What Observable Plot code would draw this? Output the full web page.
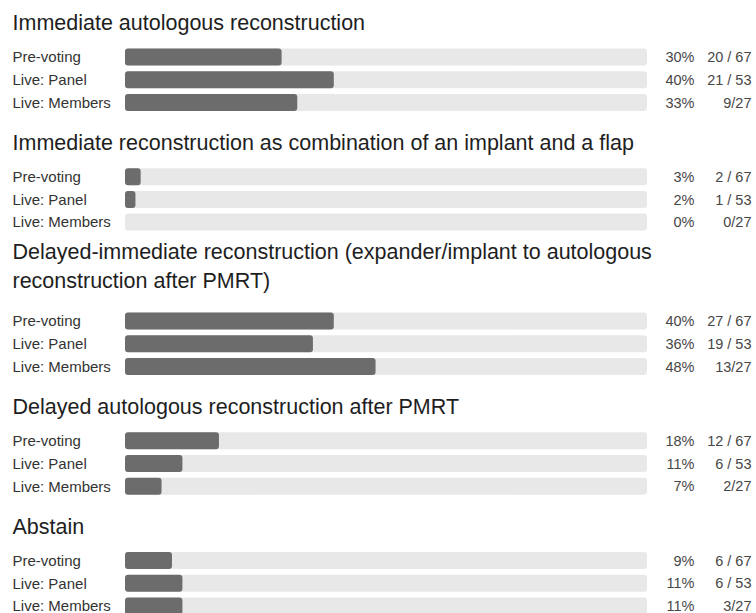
<!DOCTYPE html>
<html>
<head>
<meta charset="utf-8">
<script src="https://cdn.jsdelivr.net/npm/d3@7"></script>
<script src="https://cdn.jsdelivr.net/npm/@observablehq/plot@0.6"></script>
<style>
  html, body { margin: 0; padding: 0; background: #ffffff; }
  #chart svg { display: block; }
</style>
</head>
<body>
<div id="chart"></div>
<script>
// ---- data ----
const questions = [
  "Immediate autologous reconstruction",
  "Immediate reconstruction as combination of an implant and a flap",
  "Delayed-immediate reconstruction (expander/implant to autologous\nreconstruction after PMRT)",
  "Delayed autologous reconstruction after PMRT",
  "Abstain"
];
const voterGroups = ["Pre-voting", "Live: Panel", "Live: Members"];
const totals = [67, 53, 27];
const counts = [
  [20, 21, 9],
  [2, 1, 0],
  [27, 19, 13],
  [12, 6, 2],
  [6, 6, 3]
];
const percents = [
  [30, 40, 33],
  [3, 2, 0],
  [40, 36, 48],
  [18, 11, 7],
  [9, 11, 11]
];

// ---- layout (computed, not data) ----
const W = 756, H = 613;
const ROW = 22.7, BAR_H = 17;
const FIRST_ROW = 57, GAP1 = 74.3, EXTRA_LINE = 24.7;
const TITLE_TO_ROW = 27.5, TITLE_TO_ROW_EXTRA = 6.5, TITLE_LINE = 29;
const TITLE_FS = 21.5;

const rows = [];
const titles = [];
let first = FIRST_ROW;
questions.forEach((q, qi) => {
  const nLines = q.split("\n").length;
  if (qi > 0) {
    const prevLast = rows[rows.length - 1].cy;
    first = prevLast + GAP1 + (nLines - 1) * EXTRA_LINE;
  }
  titles.push({title: q, baseline: first - TITLE_TO_ROW - (nLines - 1) * TITLE_TO_ROW_EXTRA});
  voterGroups.forEach((g, gi) => {
    rows.push({
      question: q,
      group: g,
      count: counts[qi][gi],
      total: totals[gi],
      pct: percents[qi][gi],
      cy: first + gi * ROW
    });
  });
});

const countLabel = d => d.total === 27 ? `${d.count}/${d.total}` : `${d.count} / ${d.total}`;

const chart = Plot.plot({
  width: W,
  height: H,
  margin: 0,
  style: {fontFamily: "'Liberation Sans', Arial, Helvetica, sans-serif", background: "#ffffff"},
  x: {domain: [0, 100], range: [125, 647], axis: null},
  y: {domain: [0, H], range: [0, H], axis: null},
  marks: [
    // background track
    Plot.rect(rows, {
      x1: () => 0, x2: () => 100,
      y1: d => d.cy - BAR_H / 2, y2: d => d.cy + BAR_H / 2,
      fill: "#e8e8e8", rx: 3
    }),
    // value bar
    Plot.rect(rows.filter(d => d.pct > 0), {
      x1: () => 0, x2: "pct",
      y1: d => d.cy - BAR_H / 2, y2: d => d.cy + BAR_H / 2,
      fill: "#6c6c6c", rx: 3
    }),
    // question titles
    Plot.text(titles, {
      y: "baseline", text: "title",
      frameAnchor: "left", dx: 12, textAnchor: "start",
      lineAnchor: "bottom", lineHeight: TITLE_LINE / TITLE_FS,
      fontSize: TITLE_FS, fill: "#1e1e1e"
    }),
    // row labels
    Plot.text(rows, {
      y: "cy", text: "group",
      frameAnchor: "left", dx: 12, textAnchor: "start",
      fontSize: 15, fill: "#333333"
    }),
    // percent
    Plot.text(rows, {
      y: "cy", text: d => `${d.pct}%`,
      frameAnchor: "right", dx: -62, textAnchor: "end",
      fontSize: 14.5, fill: "#474747"
    }),
    // counts
    Plot.text(rows, {
      y: "cy", text: countLabel,
      frameAnchor: "right", dx: -5, textAnchor: "end",
      fontSize: 14.5, fill: "#474747"
    })
  ]
});

document.getElementById("chart").appendChild(chart);
</script>
</body>
</html>
